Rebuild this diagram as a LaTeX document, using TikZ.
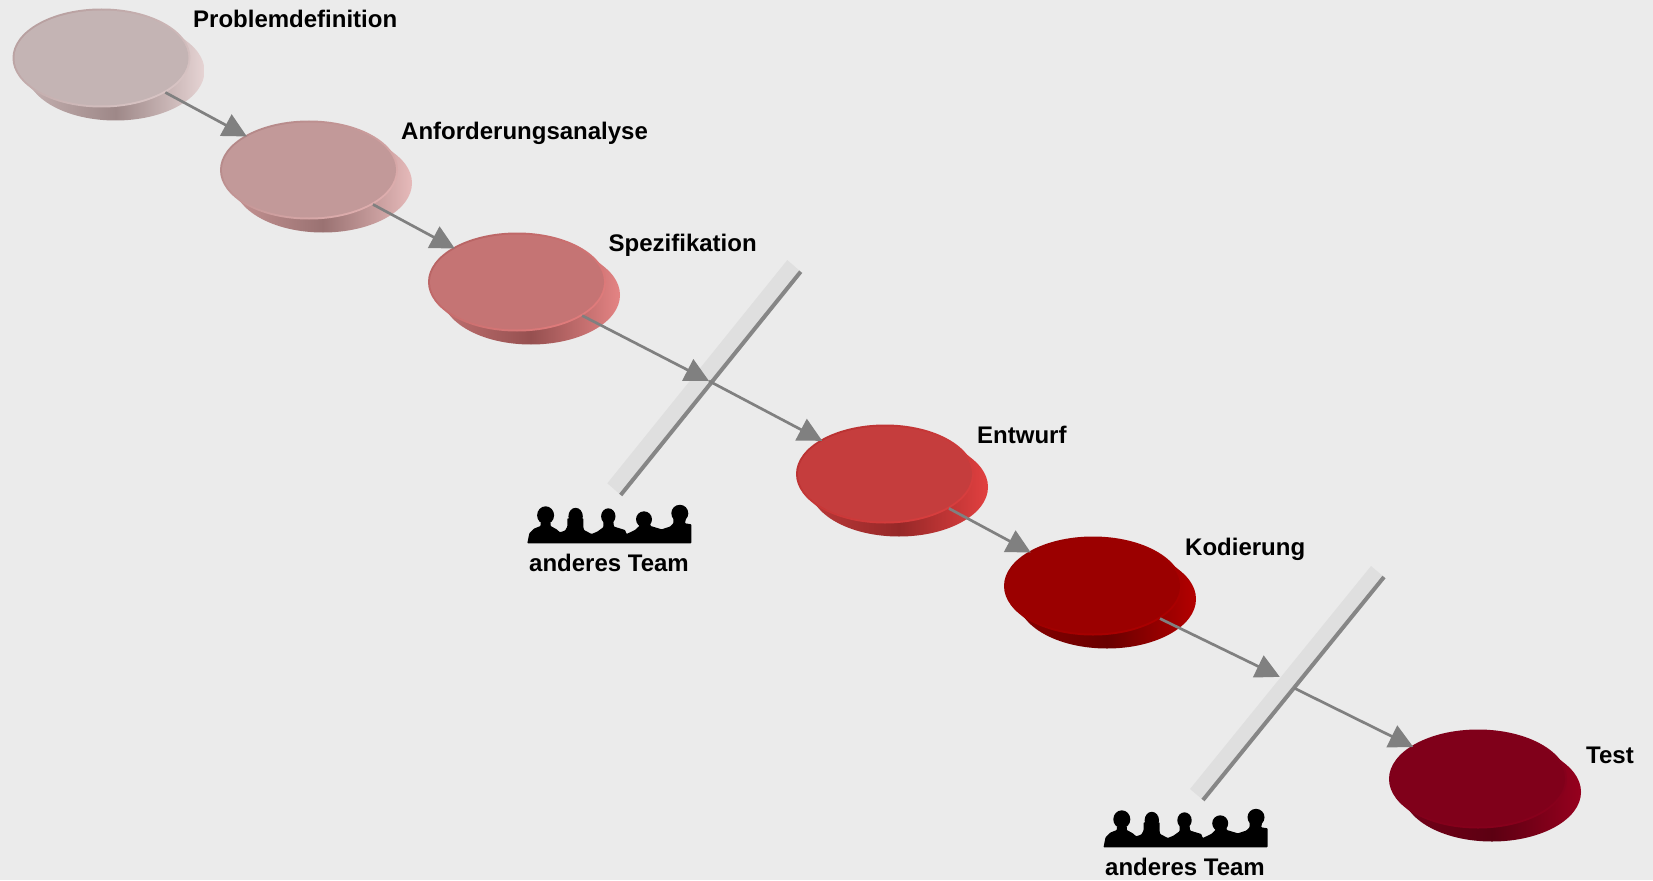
\documentclass[tikz,border=0pt]{standalone}
\usepackage{fontspec}
\setmainfont{Liberation Sans}
\usetikzlibrary{arrows.meta,shapes.geometric}
\definecolor{Backdrop}{RGB}{235, 235, 235}
\definecolor{BarLight}{RGB}{223, 223, 223}
\definecolor{BarDark}{RGB}{134, 134, 134}
\definecolor{ArrowGray}{RGB}{128, 128, 128}
\definecolor{SideLeft1}{RGB}{196, 176, 176}
\definecolor{SideMid1}{RGB}{158, 136, 136}
\definecolor{SideRight1}{RGB}{230, 212, 212}
\definecolor{SideLeft2}{RGB}{196, 146, 146}
\definecolor{SideMid2}{RGB}{154, 114, 114}
\definecolor{SideRight2}{RGB}{230, 186, 186}
\definecolor{SideLeft3}{RGB}{190, 112, 112}
\definecolor{SideMid3}{RGB}{150, 80, 80}
\definecolor{SideRight3}{RGB}{228, 132, 132}
\definecolor{SideLeft4}{RGB}{186, 56, 56}
\definecolor{SideMid4}{RGB}{150, 40, 40}
\definecolor{SideRight4}{RGB}{226, 64, 64}
\definecolor{SideLeft5}{RGB}{136, 0, 0}
\definecolor{SideMid5}{RGB}{105, 0, 0}
\definecolor{SideRight5}{RGB}{180, 0, 0}
\definecolor{SideLeft6}{RGB}{116, 0, 24}
\definecolor{SideMid6}{RGB}{92, 0, 18}
\definecolor{SideRight6}{RGB}{150, 0, 30}
\definecolor{RimTop1}{RGB}{184, 160, 160}
\definecolor{RimLow1}{RGB}{216, 196, 196}
\definecolor{RimTop2}{RGB}{180, 136, 136}
\definecolor{RimLow2}{RGB}{222, 174, 174}
\definecolor{RimTop3}{RGB}{184, 100, 100}
\definecolor{RimLow3}{RGB}{224, 124, 124}
\definecolor{RimTop4}{RGB}{186, 50, 50}
\definecolor{RimLow4}{RGB}{216, 62, 62}
\definecolor{RimTop5}{RGB}{150, 0, 0}
\definecolor{RimLow5}{RGB}{170, 0, 0}
\definecolor{RimTop6}{RGB}{126, 0, 26}
\definecolor{RimLow6}{RGB}{136, 0, 28}
\definecolor{Face1}{RGB}{196, 180, 180}
\definecolor{Face2}{RGB}{194, 153, 153}
\definecolor{Face3}{RGB}{197, 116, 116}
\definecolor{Face4}{RGB}{197, 61, 61}
\definecolor{Face5}{RGB}{155, 0, 0}
\definecolor{Face6}{RGB}{128, 0, 26}
\begin{document}
\begin{tikzpicture}[
        x=1pt, y=-1pt,
        font=\fontsize{24}{28}\selectfont\bfseries,
        base/.style = {ellipse, inner sep=0pt, outer sep=0pt, minimum width=178pt, minimum height=99pt},
        side/.style = {base, left color=SideLeft#1, right color=SideRight#1, middle color=SideMid#1},
        rim/.style = {base, top color=RimTop#1, bottom color=RimLow#1, shading angle=35},
        face/.style = {ellipse, inner sep=0pt, outer sep=0pt, minimum width=174pt, minimum height=95pt, fill=Face#1},
        caption/.style = {anchor=base west, inner sep=0pt},
        team/.style = {inner sep=0pt},
        flow/.style = {draw=ArrowGray, line width=2.7pt, shorten >=-2pt, -{Triangle[length=24pt, width=24pt]}},
        hull/.pic = {
            \fill[SideLeft#1] (-76,25) -- (-62,38) -- (14,13) -- cycle;
            \fill[SideRight#1] (76,-25) -- (90,-12) -- (14,13) -- cycle;
        },
        people/.pic = {
            \fill[black, rounded corners=0.7pt] (0,0) -- (2,-10) -- (6.7,-14.7) -- (13.3,-17.3) -- (13.3,-20.7) -- (23.3,-20.7)
                -- (23.3,-17.3) -- (29.3,-14) -- (32.7,-11) -- (37.7,-12.7) -- (40,-16.7) -- (40,-25) -- (56,-25)
                -- (56,-16.7) -- (56.7,-13.3) -- (64.3,-9.3) -- (70,-11.7) -- (76,-16) -- (76,-21.7) -- (86,-21.7)
                -- (86.7,-16.7) -- (97.7,-13.3) -- (99.3,-9.3) -- (107.7,-13.3) -- (112,-17.3) -- (111,-21.7)
                -- (122.7,-21.7) -- (123.3,-17.3) -- (134.3,-14) -- (142.7,-16.7) -- (146,-20) -- (146,-26.7)
                -- (159,-26.7) -- (157.7,-20) -- (164,-19) -- (164,0) -- cycle;
            \fill (18.3,-28) ellipse [x radius=8.5, y radius=9];
            \fill (48.3,-27) ellipse [x radius=7.2, y radius=8.5];
            \fill (81,-27) ellipse [x radius=7.2, y radius=8];
            \fill (116.7,-24) ellipse [x radius=8, y radius=8];
            \fill (152.5,-30) ellipse [x radius=8.5, y radius=8.5];
        }
    ]
    \fill[Backdrop] (0,0) rectangle (1653,880);
    \useasboundingbox (0,0) rectangle (1653,880);

    \pic at (101.5,58)  {hull=1};
    \pic at (309,170)   {hull=2};
    \pic at (517,282)   {hull=3};
    \pic at (885,474)   {hull=4};
    \pic at (1093,586)  {hull=5};
    \pic at (1478,779)  {hull=6};

    \node (L1) at (115.5,71) [side=1] {};
    \node (L2) at (323,183)  [side=2] {};
    \node (L3) at (531,295)  [side=3] {};
    \node (L4) at (899,487)  [side=4] {};
    \node (L5) at (1107,599) [side=5] {};
    \node (L6) at (1492,792) [side=6] {};

    \node (D1) at (101.5,58) [rim=1] {};
    \node (D2) at (309,170)  [rim=2] {};
    \node (D3) at (517,282)  [rim=3] {};
    \node (D4) at (885,474)  [rim=4] {};
    \node (D5) at (1093,586) [rim=5] {};
    \node (D6) at (1478,779) [rim=6] {};

    \node (F1) at (101.5,58) [face=1] {};
    \node (F2) at (309,170)  [face=2] {};
    \node (F3) at (517,282)  [face=3] {};
    \node (F4) at (885,474)  [face=4] {};
    \node (F5) at (1093,586) [face=5] {};
    \node (F6) at (1478,779) [face=6] {};

    \node (T1) at (193,27.5)  [caption] {Problemdefinition};
    \node (T2) at (401,139.5) [caption] {Anforderungsanalyse};
    \node (T3) at (608.5,251.5) [caption] {Spezifikation};
    \node (T4) at (977,443.5) [caption] {Entwurf};
    \node (T5) at (1185,555.5) [caption] {Kodierung};
    \node (T6) at (1586,763.5) [caption] {Test};

    \fill[BarLight] (787.3,260) -- (800.7,271.7) -- (620.7,495) -- (607.3,483.3) -- cycle;
    \draw[BarDark, line width=4pt] (800.7,271.7) -- (620.7,495);
    \fill[BarLight] (1371,566) -- (1384,577) -- (1203,800) -- (1190,789) -- cycle;
    \draw[BarDark, line width=4pt] (1384,577) -- (1203,800);

    \coordinate (X1) at (709,381);
    \coordinate (X2) at (1278,676);
    \coordinate (X3) at (1294,688);

    \draw[flow] (D1) -- (D2);
    \draw[flow] (D2) -- (D3);
    \draw[flow, shorten >=0pt] (D3) -- (X1);
    \draw[flow] (X1) -- (D4);
    \draw[flow] (D4) -- (D5);
    \draw[flow] (D5) -- (X2);
    \draw[flow] (X3) -- (D6);

    \pic at (527.3,543.3) {people};
    \pic at (1103.5,847.3) {people};
    \node (N1) at (609,563)  [team] {anderes Team};
    \node (N2) at (1185,867) [team] {anderes Team};
\end{tikzpicture}
\end{document}
